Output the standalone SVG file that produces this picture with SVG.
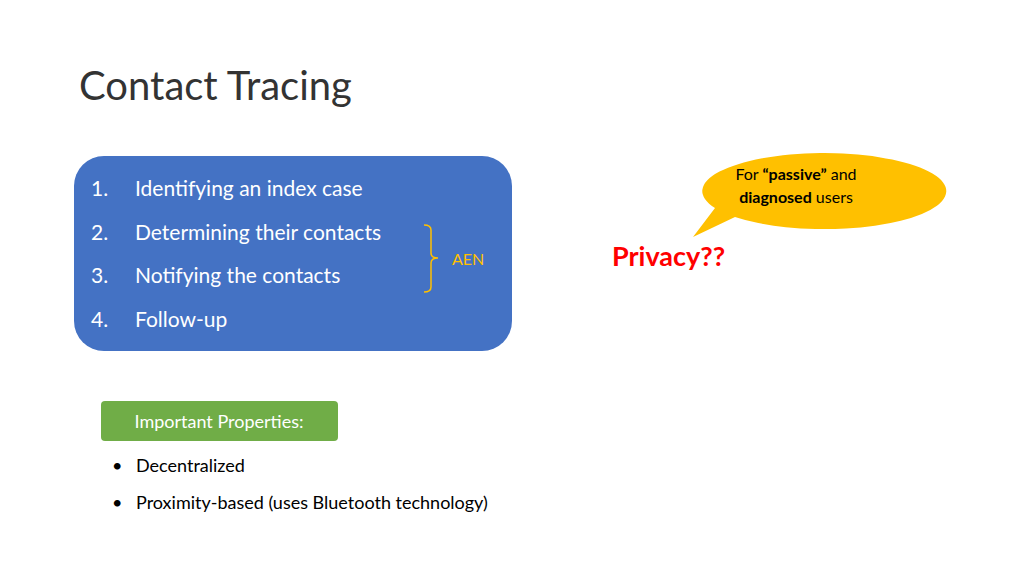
<svg xmlns="http://www.w3.org/2000/svg" width="1024" height="576" viewBox="0 0 1024 576">
<style>
text{font-family:Lato,"Liberation Sans",sans-serif}
.w{fill:#fff;font-size:21px}
.b{fill:#000;font-size:18px}
</style>
<rect width="1024" height="576" fill="#fff"/>
<text x="79" y="100" font-size="40" fill="#333">Contact Tracing</text>
<g id="steps">
<rect x="74" y="156" width="438" height="195" rx="30" fill="#4472C4"/>
<text class="w" x="91" y="196">1.</text><text class="w" x="135" y="196">Identifying an index case</text>
<text class="w" x="91" y="240">2.</text><text class="w" x="135" y="240">Determining their contacts</text>
<text class="w" x="91" y="283">3.</text><text class="w" x="135" y="283">Notifying the contacts</text>
<text class="w" x="91" y="327">4.</text><text class="w" x="135" y="327">Follow-up</text>
</g>
<g id="aen">
<path d="M424 225 Q431 225 431 230 V253 Q431 258 438 258 Q431 258 431 263 V287 Q431 292 424 292" fill="none" stroke="#FFC000" stroke-width="1.5"/>
<text x="452" y="265" font-size="16" fill="#FFC000">AEN</text>
</g>
<g id="callout">
<path d="M693 237 L735 217 A122 38 0 1 0 715 208 Z" fill="#FFC000"/>
<text x="796" y="180" font-size="16" text-anchor="middle">For <tspan font-weight="bold">“passive”</tspan> and</text>
<text x="796" y="203" font-size="16" text-anchor="middle"><tspan font-weight="bold">diagnosed</tspan> users</text>
</g>
<text id="privacy" x="612" y="266" font-size="27" font-weight="bold" fill="#FF0000">Privacy??</text>
<g id="props">
<rect x="101" y="401" width="237" height="40" rx="4" fill="#70AD47"/>
<text x="219" y="428" font-size="18" fill="#fff" text-anchor="middle">Important Properties:</text>
</g>
<text class="b" x="112" y="472">•</text><text class="b" x="136" y="472">Decentralized</text>
<text class="b" x="112" y="509">•</text><text class="b" x="136" y="509">Proximity-based (uses Bluetooth technology)</text>
</svg>
